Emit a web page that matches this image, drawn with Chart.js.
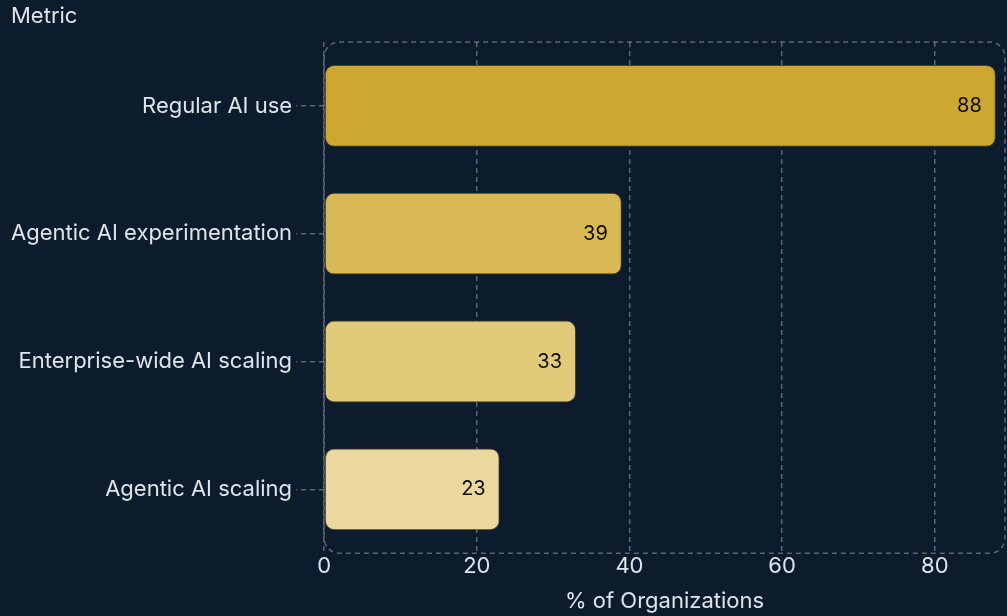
<!DOCTYPE html>
<html>
<head>
<meta charset="utf-8">
<script src="https://cdn.jsdelivr.net/npm/chart.js@4.4.1/dist/chart.umd.min.js"></script>
<style>
    html, body { margin: 0; padding: 0; background: #0d1c2d; }
    #wrap { width: 1007px; height: 616px; position: relative; }
</style>
</head>
<body>
<div id="wrap"><canvas id="chart"></canvas></div>
<script>
// Chart data
const metrics = ['Regular AI use', 'Agentic AI experimentation', 'Enterprise-wide AI scaling', 'Agentic AI scaling'];
const percentages = [88, 39, 33, 23];
const barColors = ['#cda830', '#d9b955', '#e1ca7a', '#ebd89e'];
const xTicks = [0, 20, 40, 60, 80];

const FONT = 'Inter, "DejaVu Sans", sans-serif';
const GRID = 'rgba(160, 160, 165, 0.55)';
const TEXT = '#dfe4eb';

// Rounded dashed frame around the plot area
const frameBorder = {
    id: 'frameBorder',
    beforeDatasetsDraw(chart) {
        const { ctx, chartArea: a } = chart;
        ctx.save();
        ctx.strokeStyle = GRID;
        ctx.lineWidth = 1.5;
        ctx.setLineDash([5, 4]);
        ctx.beginPath();
        ctx.roundRect(a.left, a.top, a.right - a.left, a.bottom - a.top, 15);
        ctx.stroke();
        ctx.restore();
    }
};

// Value labels at the bar ends
const valueLabels = {
    id: 'valueLabels',
    afterDatasetsDraw(chart) {
        const { ctx } = chart;
        const meta = chart.getDatasetMeta(0);
        ctx.save();
        ctx.fillStyle = '#0a0a0a';
        ctx.font = '20px ' + FONT;
        ctx.textAlign = 'right';
        ctx.textBaseline = 'middle';
        meta.data.forEach((bar, i) => {
            ctx.fillText(percentages[i], bar.x - 14, bar.y);
        });
        ctx.restore();
    }
};

// "Metric" heading in the top-left corner
const axisHeading = {
    id: 'axisHeading',
    afterDraw(chart) {
        const { ctx } = chart;
        ctx.save();
        ctx.fillStyle = TEXT;
        ctx.font = '22px ' + FONT;
        ctx.textAlign = 'left';
        ctx.textBaseline = 'middle';
        ctx.fillText('Metric', 11, 16);
        ctx.restore();
    }
};

new Chart(document.getElementById('chart'), {
    type: 'bar',
    data: {
        labels: metrics,
        datasets: [{
            data: percentages,
            backgroundColor: barColors,
            borderColor: 'rgba(120, 95, 20, 0.6)',
            borderWidth: 1,
            borderRadius: 9,
            borderSkipped: false,
            barPercentage: 0.8,
            categoryPercentage: 0.8
        }]
    },
    options: {
        indexAxis: 'y',
        responsive: true,
        maintainAspectRatio: false,
        animation: false,
        layout: { padding: { left: 7, right: 2, top: 42, bottom: 0 } },
        plugins: {
            legend: { display: false },
            tooltip: { enabled: false },
            title: { display: false }
        },
        scales: {
            x: {
                min: 0,
                max: 89.2,
                border: { display: false, dash: [5, 4] },
                afterBuildTicks: axis => {
                    axis.ticks = xTicks.map(v => ({ value: v }));
                },
                grid: {
                    color: GRID,
                    lineWidth: 1.5,
                    drawTicks: false
                },
                ticks: {
                    color: TEXT,
                    padding: 0,
                    font: { family: FONT, size: 22 }
                },
                title: {
                    display: true,
                    text: '% of Organizations',
                    color: TEXT,
                    font: { family: FONT, size: 22 },
                    padding: { top: 9, bottom: 1 }
                }
            },
            y: {
                border: { display: false },
                grid: {
                    offset: false,
                    drawOnChartArea: false,
                    drawTicks: true,
                    tickLength: 28,
                    color: GRID,
                    lineWidth: 1.5,
                    tickBorderDash: [5, 4],
                    tickBorderDashOffset: 4
                },
                ticks: {
                    color: TEXT,
                    padding: 4,
                    font: { family: FONT, size: 22 }
                }
            }
        }
    },
    plugins: [frameBorder, valueLabels, axisHeading]
});
</script>
</body>
</html>
